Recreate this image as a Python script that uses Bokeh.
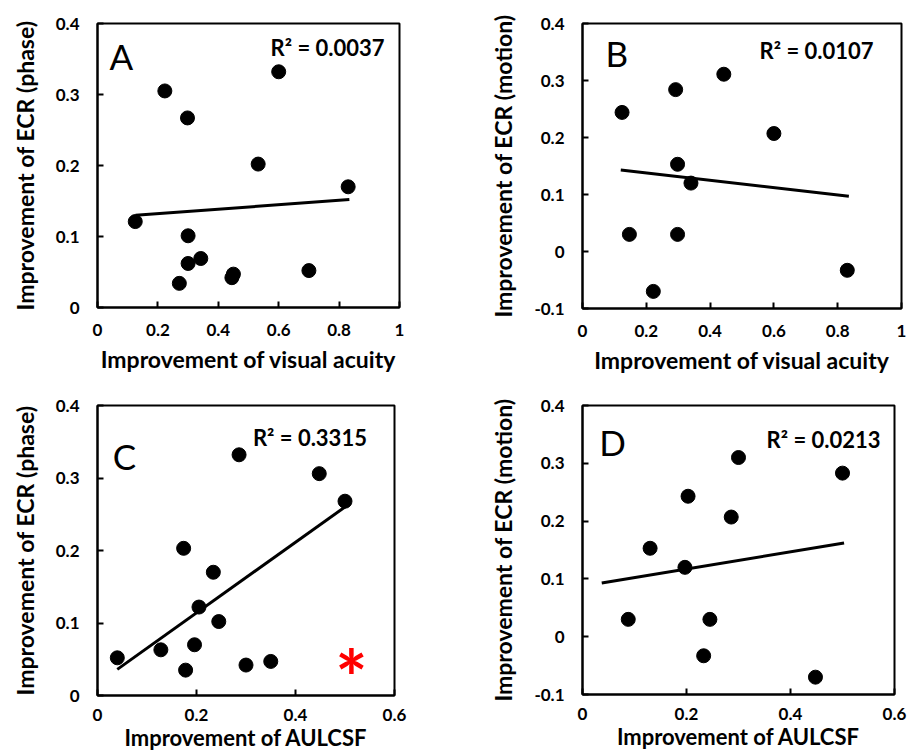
from bokeh.plotting import figure
from bokeh.layouts import gridplot
from bokeh.models import FixedTicker, Label
from bokeh.embed import file_html
from bokeh.resources import INLINE
from bokeh.core.properties import value

FONT = "Lato"

# ---------------- data ----------------
# Panel A: visual acuity vs ECR (phase)
a_x = [0.125, 0.223, 0.298, 0.600, 0.532, 0.830, 0.300, 0.300, 0.342, 0.271, 0.450, 0.445, 0.700]
a_y = [0.121, 0.305, 0.267, 0.332, 0.202, 0.170, 0.101, 0.062, 0.069, 0.034, 0.047, 0.042, 0.052]
a_fit_x = [0.126, 0.834]
a_fit_y = [0.130, 0.152]

# Panel B: visual acuity vs ECR (motion)
b_x = [0.124, 0.292, 0.443, 0.600, 0.298, 0.340, 0.147, 0.298, 0.222, 0.830]
b_y = [0.244, 0.284, 0.311, 0.207, 0.153, 0.120, 0.030, 0.030, -0.070, -0.033]
b_fit_x = [0.120, 0.835]
b_fit_y = [0.143, 0.097]

# Panel C: AULCSF vs ECR (phase)
c_x = [0.040, 0.128, 0.174, 0.178, 0.196, 0.205, 0.234, 0.245, 0.286, 0.300, 0.350, 0.448, 0.500]
c_y = [0.052, 0.063, 0.203, 0.035, 0.070, 0.122, 0.170, 0.102, 0.332, 0.042, 0.047, 0.306, 0.268]
c_fit_x = [0.040, 0.504]
c_fit_y = [0.036, 0.262]

# Panel D: AULCSF vs ECR (motion)
d_x = [0.088, 0.130, 0.197, 0.203, 0.233, 0.245, 0.286, 0.300, 0.448, 0.500]
d_y = [0.030, 0.153, 0.120, 0.243, -0.033, 0.030, 0.207, 0.310, -0.070, 0.283]
d_fit_x = [0.037, 0.503]
d_fit_y = [0.093, 0.162]

panel_letters = ["A", "B", "C", "D"]
r2_texts = ["R\u00b2 = 0.0037", "R\u00b2 = 0.0107", "R\u00b2 = 0.3315", "R\u00b2 = 0.0213"]
x_titles = ["Improvement of visual acuity", "Improvement of visual acuity",
            "Improvement of AULCSF", "Improvement of AULCSF"]
y_titles = ["Improvement of ECR (phase)", "Improvement of ECR (motion)",
            "Improvement of ECR (phase)", "Improvement of ECR (motion)"]

va_ticks = [0, 0.2, 0.4, 0.6, 0.8, 1]
va_tick_labels = ["0", "0.2", "0.4", "0.6", "0.8", "1"]
au_ticks = [0, 0.2, 0.4, 0.6]
au_tick_labels = ["0", "0.2", "0.4", "0.6"]
phase_ticks = [0, 0.1, 0.2, 0.3, 0.4]
phase_tick_labels = ["0", "0.1", "0.2", "0.3", "0.4"]
motion_ticks = [-0.1, 0, 0.1, 0.2, 0.3, 0.4]
motion_tick_labels = ["-0.1", "0", "0.1", "0.2", "0.3", "0.4"]

# significance marker in panel C
star_x = [0.513]
star_y = [0.048]


def make_panel(xs, ys, fx, fy, xr, yr, xt, xtl, yt, ytl, letter, r2, xtitle, ytitle,
               letter_pos, r2_pos, borders, frame, bottom_row=False):
    ml, mr, mt, mb = borders
    fw, fh = frame
    p = figure(x_range=xr, y_range=yr, frame_width=fw, frame_height=fh,
               min_border_left=ml, min_border_right=mr, min_border_top=mt, min_border_bottom=mb,
               output_backend="svg", toolbar_location=None)
    p.grid.visible = False
    p.outline_line_color = "black"
    p.outline_line_width = 2
    p.background_fill_color = "white"
    p.border_fill_color = "white"

    p.xaxis.ticker = FixedTicker(ticks=xt)
    p.xaxis.major_label_overrides = {t: l for t, l in zip(xt, xtl)}
    p.yaxis.ticker = FixedTicker(ticks=yt)
    p.yaxis.major_label_overrides = {t: l for t, l in zip(yt, ytl)}
    for ax in (p.xaxis, p.yaxis):
        ax.axis_line_width = 2
        ax.axis_line_color = "black"
        ax.major_tick_in = 6
        ax.major_tick_out = 0
        ax.major_tick_line_width = 2
        ax.minor_tick_line_color = None
        ax.major_label_text_font = FONT
        ax.major_label_text_font_style = "bold"
        ax.major_label_text_font_size = "17px"
        ax.major_label_text_color = "black"
        ax.axis_label_text_font = FONT
        ax.axis_label_text_font_style = "bold"
        ax.axis_label_text_font_size = "23px"
        ax.axis_label_text_color = "black"
    if bottom_row:
        p.xaxis.major_label_standoff = 13
        p.xaxis.axis_label_standoff = 0
        p.xaxis.axis_label_text_font_size = "22px"
    else:
        p.xaxis.major_label_standoff = 16
        p.xaxis.axis_label_standoff = 6
    p.yaxis.major_label_standoff = 18
    p.yaxis.axis_label_standoff = 14
    p.xaxis.axis_label = xtitle
    p.yaxis.axis_label = ytitle

    p.line(fx, fy, line_color="black", line_width=3)
    p.scatter(xs, ys, size=14, fill_color="black", line_color="black")

    p.add_layout(Label(x=letter_pos[0], y=letter_pos[1], text=letter, text_font=FONT,
                       text_font_size="35px", text_color="black", text_baseline="middle",
                       text_align="left"))
    p.add_layout(Label(x=r2_pos[0], y=r2_pos[1], text=r2, text_font=FONT,
                       text_font_style="bold", text_font_size="22px", text_color="black",
                       text_baseline="middle", text_align="left"))
    return p


pA = make_panel(a_x, a_y, a_fit_x, a_fit_y, (0, 1), (0, 0.4), va_ticks, va_tick_labels,
                phase_ticks, phase_tick_labels, panel_letters[0], r2_texts[0],
                x_titles[0], y_titles[0], (0.040, 0.354), (0.573, 0.366),
                (97, 51, 16, 80), (302, 284))
pB = make_panel(b_x, b_y, b_fit_x, b_fit_y, (0, 1), (-0.1, 0.4), va_ticks, va_tick_labels,
                motion_ticks, motion_tick_labels, panel_letters[1], r2_texts[1],
                x_titles[1], y_titles[1], (0.072, 0.349), (0.555, 0.352),
                (126, 12, 23, 72), (319, 285))
pC = make_panel(c_x, c_y, c_fit_x, c_fit_y, (0, 0.6), (0, 0.4), au_ticks, au_tick_labels,
                phase_ticks, phase_tick_labels, panel_letters[2], r2_texts[2],
                x_titles[2], y_titles[2], (0.031, 0.330), (0.314, 0.356),
                (94, 59, 22, 62), (297, 290), bottom_row=True)
pD = make_panel(d_x, d_y, d_fit_x, d_fit_y, (0, 0.6), (-0.1, 0.4), au_ticks, au_tick_labels,
                motion_ticks, motion_tick_labels, panel_letters[3], r2_texts[3],
                x_titles[3], y_titles[3], (0.032, 0.337), (0.354, 0.342),
                (132, 13, 25, 60), (312, 289), bottom_row=True)

pC.text(x=star_x, y=star_y, text=["*"], text_color="red", text_font=value(FONT),
        text_font_style="bold", text_font_size="76px", text_align="center",
        text_baseline="middle", y_offset=16)

grid = gridplot([[pA, pB], [pC, pD]], toolbar_location=None)

open("out.html", "w").write(file_html(grid, INLINE))
